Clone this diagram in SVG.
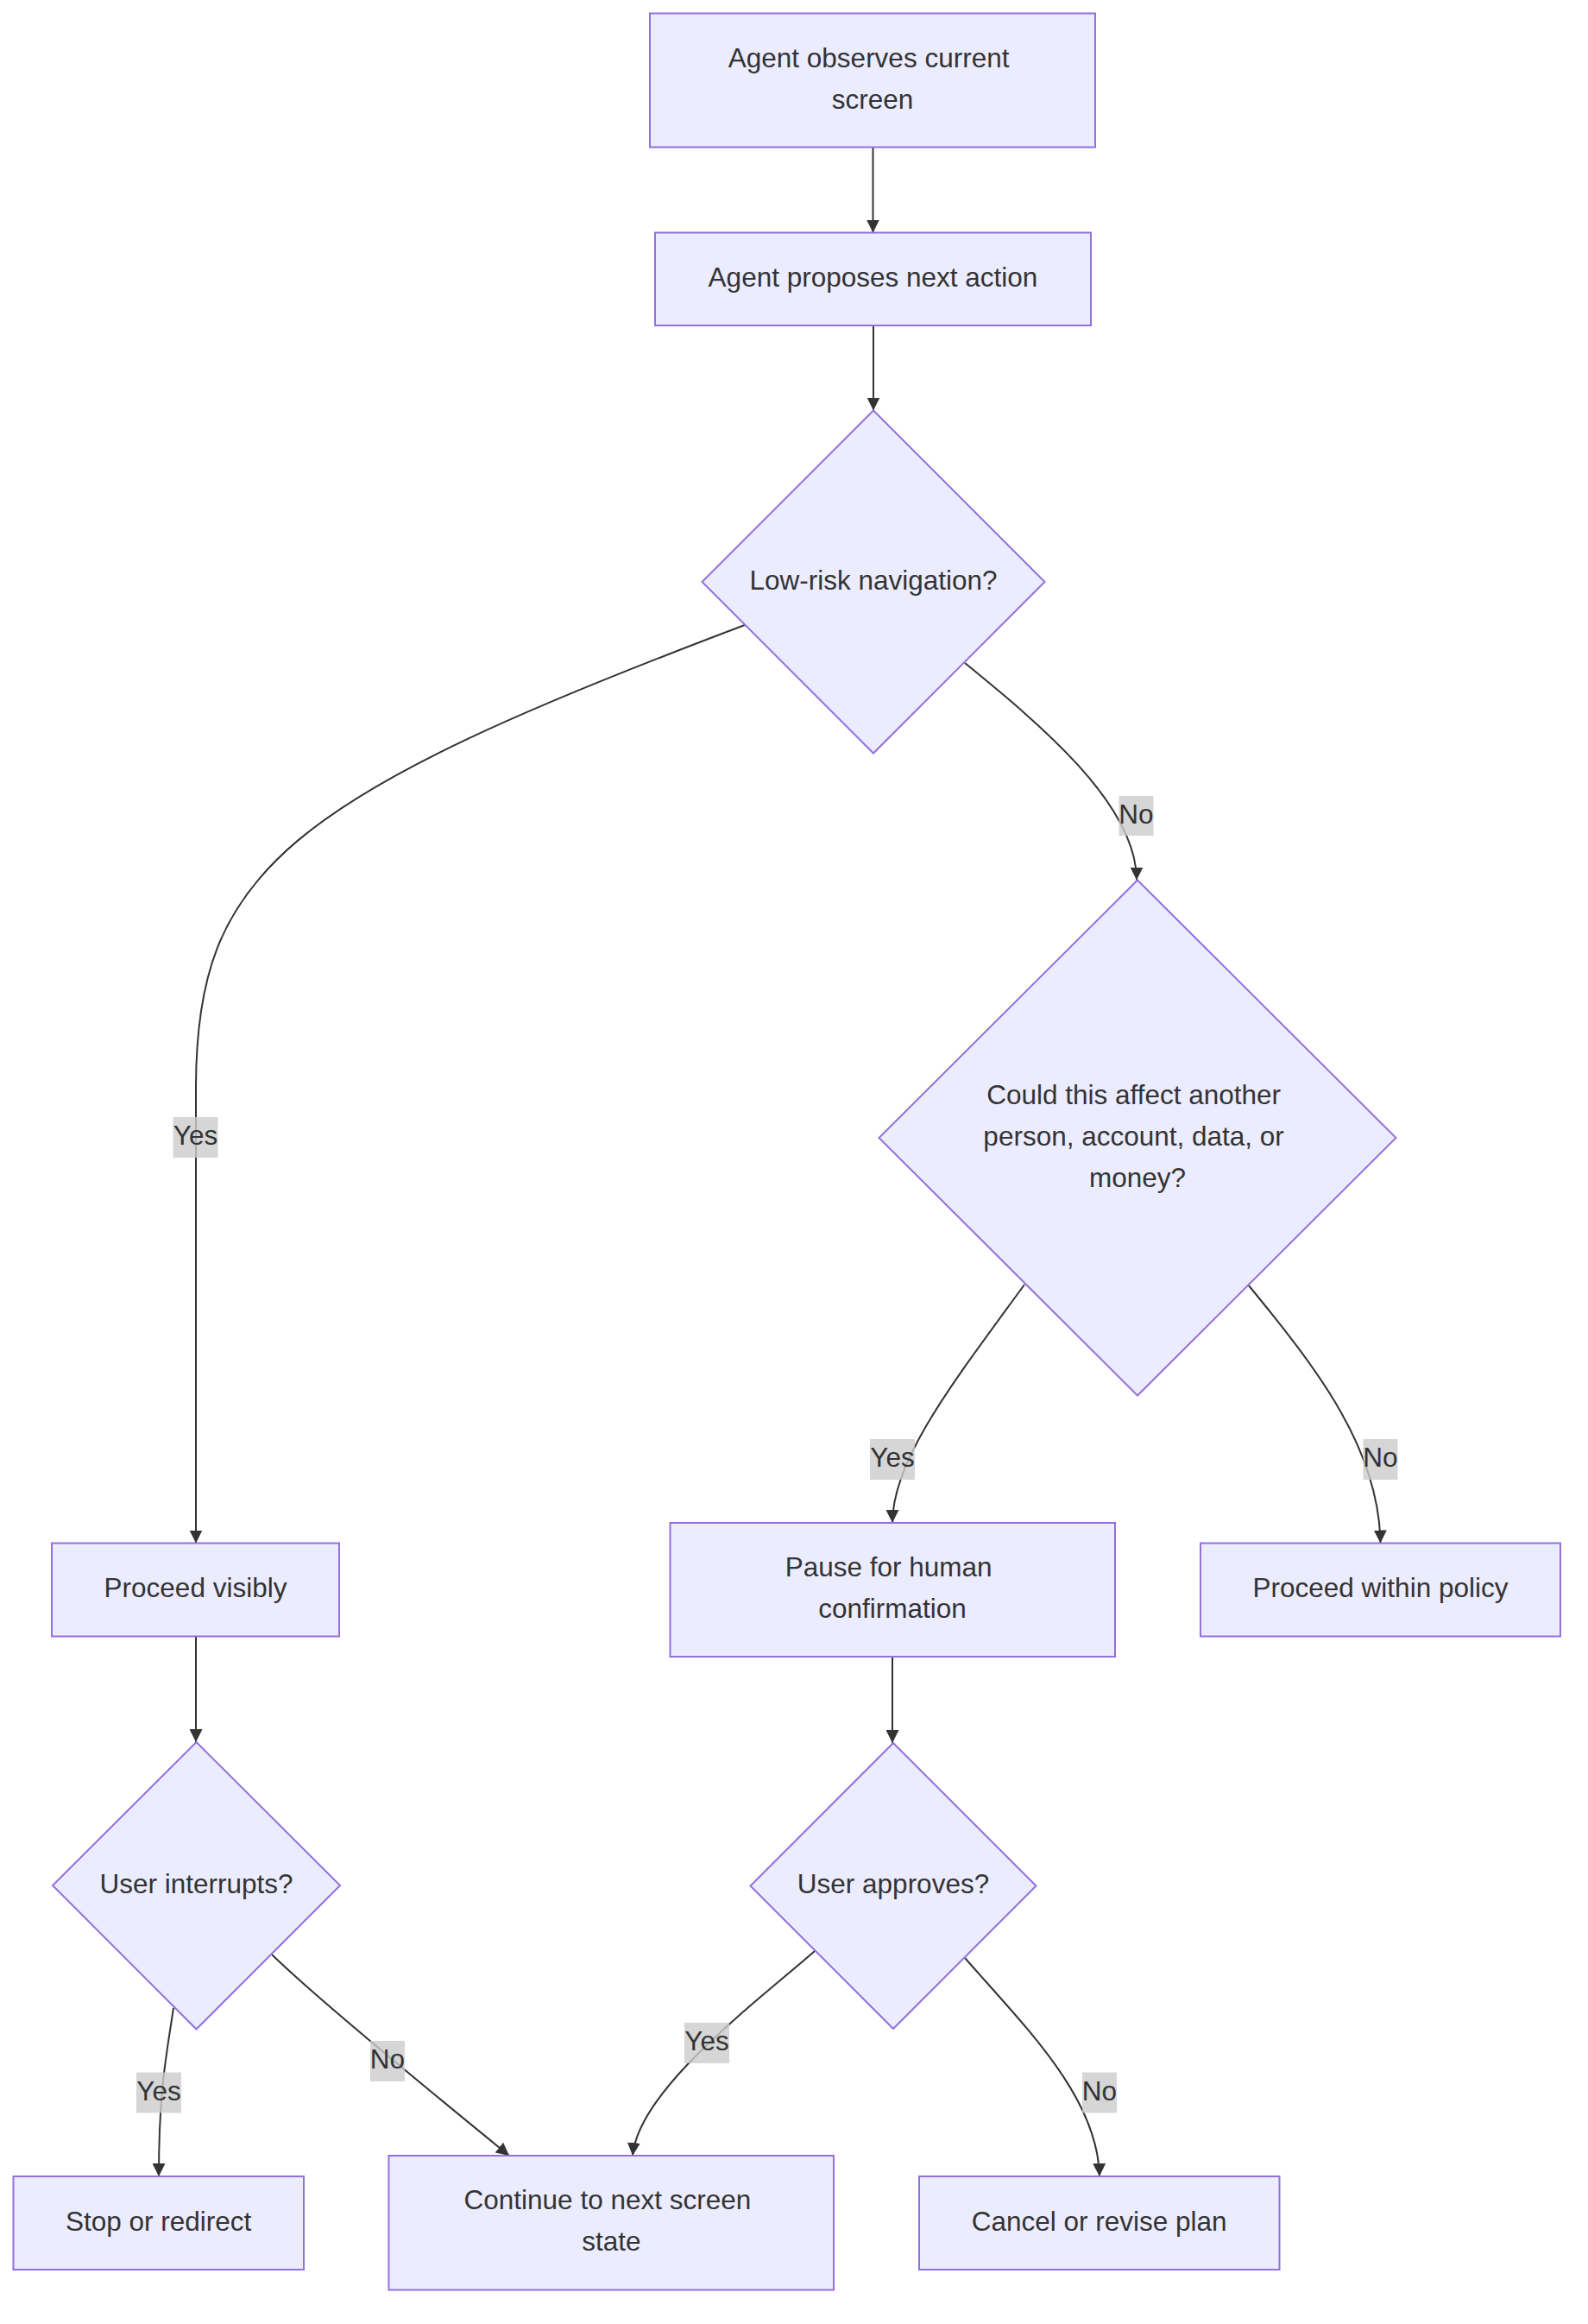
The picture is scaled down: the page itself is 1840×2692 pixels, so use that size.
<svg xmlns="http://www.w3.org/2000/svg" width="1840" height="2692" viewBox="0 0 1840 2692">
<style>
.node{fill:#ECECFF;stroke:#9370DB;stroke-width:2}
.t{font-family:"Liberation Sans",Arial,sans-serif;font-size:31.5px;fill:#333333;text-anchor:middle}
.edge{fill:none;stroke:#333333;stroke-width:2}
.lbl{fill:#cccccc;fill-opacity:0.8}
</style>
<defs>
<marker id="arrow" viewBox="0 0 10 10" refX="10" refY="5" markerWidth="15" markerHeight="15" markerUnits="userSpaceOnUse" orient="auto">
<path d="M0,0 L10,5 L0,10 z" fill="#333333"/>
</marker>
</defs>
<rect width="1840" height="2692" fill="#ffffff"/>
<g id="connectors">
<path class="edge" marker-end="url(#arrow)" d="M1011.5,170.5 L1011.5,269.5"/>
<path class="edge" marker-end="url(#arrow)" d="M1012,377 L1012,475.5"/>
<path class="edge" marker-end="url(#arrow)" d="M863,724 C330,925 227,1010 227,1260 L227,1787.5"/>
<path class="edge" marker-end="url(#arrow)" d="M1118,768 C1200,835 1317,930 1317,1019.5"/>
<path class="edge" marker-end="url(#arrow)" d="M1187,1488 C1107,1598 1034,1690 1034,1764"/>
<path class="edge" marker-end="url(#arrow)" d="M1446,1488 C1530,1590 1598,1680 1599.5,1787.5"/>
<path class="edge" marker-end="url(#arrow)" d="M1034,1919 L1034,2019"/>
<path class="edge" marker-end="url(#arrow)" d="M227,1895.5 L227,2018"/>
<path class="edge" marker-end="url(#arrow)" d="M201,2326 C193,2380 184,2420 184,2521"/>
<path class="edge" marker-end="url(#arrow)" d="M315,2264 C370,2318 520,2440 590,2497"/>
<path class="edge" marker-end="url(#arrow)" d="M944,2260 C880,2316 740,2420 733,2497"/>
<path class="edge" marker-end="url(#arrow)" d="M1118,2268 C1190,2350 1272,2430 1274,2521"/>
</g>
<g id="edge-labels">
<rect class="lbl" x="200.5" y="1294" width="52" height="47"/><text class="t" x="226.5" y="1326">Yes</text>
<rect class="lbl" x="1296.5" y="922" width="40" height="46"/><text class="t" x="1316.5" y="953.5">No</text>
<rect class="lbl" x="1008" y="1667" width="52" height="47"/><text class="t" x="1034" y="1699">Yes</text>
<rect class="lbl" x="1579.5" y="1667" width="40" height="47"/><text class="t" x="1599.5" y="1699">No</text>
<rect class="lbl" x="158" y="2400.5" width="52" height="47"/><text class="t" x="184" y="2432.5">Yes</text>
<rect class="lbl" x="429" y="2364" width="40" height="47"/><text class="t" x="449" y="2396">No</text>
<rect class="lbl" x="793" y="2343" width="52" height="47"/><text class="t" x="819" y="2375">Yes</text>
<rect class="lbl" x="1254" y="2400.5" width="40" height="47"/><text class="t" x="1274" y="2432.5">No</text>
</g>
<g id="observe">
<rect class="node" x="753" y="15.5" width="516" height="155"/>
<text class="t" x="1006.6" y="77.5">Agent observes current</text>
<text class="t" x="1011" y="125.5">screen</text>
</g>
<g id="propose">
<rect class="node" x="759" y="269.5" width="505" height="107.5"/>
<text class="t" x="1011.5" y="331.75">Agent proposes next action</text>
</g>
<g id="lowrisk">
<polygon class="node" points="1012,475.5 1210.5,674 1012,872.5 813.5,674"/>
<text class="t" x="1012" y="682.5">Low-risk navigation?</text>
</g>
<g id="affect">
<polygon class="node" points="1318,1019.5 1617.5,1318 1318,1616.5 1018.5,1318"/>
<text class="t" x="1313.6" y="1278.5">Could this affect another</text>
<text class="t" x="1313.6" y="1326.5">person, account, data, or</text>
<text class="t" x="1318" y="1374.5">money?</text>
</g>
<g id="visibly">
<rect class="node" x="60" y="1787.5" width="333" height="108"/>
<text class="t" x="226.5" y="1850">Proceed visibly</text>
</g>
<g id="pause">
<rect class="node" x="776.5" y="1764" width="515.5" height="155"/>
<text class="t" x="1029.6" y="1826">Pause for human</text>
<text class="t" x="1034" y="1874">confirmation</text>
</g>
<g id="policy">
<rect class="node" x="1391" y="1787.5" width="417" height="108"/>
<text class="t" x="1599.5" y="1850">Proceed within policy</text>
</g>
<g id="interrupts">
<polygon class="node" points="227.5,2018 394,2184 227.5,2350.5 61,2184"/>
<text class="t" x="227.5" y="2192.5">User interrupts?</text>
</g>
<g id="approves">
<polygon class="node" points="1035,2019 1200.5,2184.5 1035,2350 869.5,2184.5"/>
<text class="t" x="1035" y="2193">User approves?</text>
</g>
<g id="stop">
<rect class="node" x="15.5" y="2521" width="336.5" height="108"/>
<text class="t" x="183.7" y="2583.5">Stop or redirect</text>
</g>
<g id="continue">
<rect class="node" x="450.5" y="2497" width="515.5" height="155.5"/>
<text class="t" x="703.9" y="2559.25">Continue to next screen</text>
<text class="t" x="708.3" y="2607.25">state</text>
</g>
<g id="cancel">
<rect class="node" x="1065" y="2521" width="417.5" height="108"/>
<text class="t" x="1273.7" y="2583.5">Cancel or revise plan</text>
</g>
</svg>
